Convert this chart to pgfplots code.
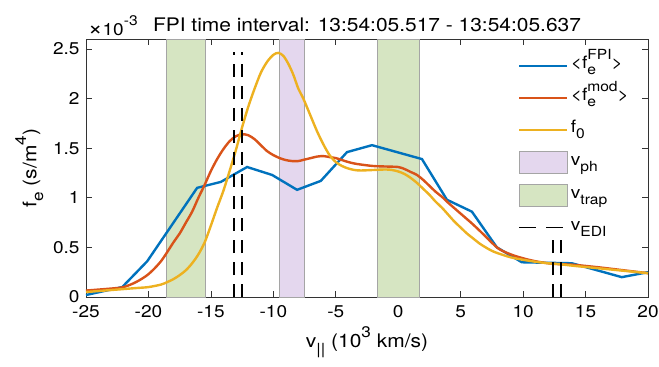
\documentclass[border=0pt]{standalone}
\usepackage{fontspec}
\setmainfont{TeX Gyre Heros}[FakeStretch=1.12]
\usepackage{graphicx}
\usepackage{pgfplots}
\pgfplotsset{compat=1.18}
\definecolor{mblue}{rgb}{0,0.447,0.741}
\definecolor{morange}{rgb}{0.85,0.325,0.098}
\definecolor{myellow}{rgb}{0.929,0.694,0.125}
\definecolor{mgreen}{RGB}{214,229,194}
\definecolor{mpurple}{RGB}{228,215,238}
\definecolor{edgegray}{RGB}{165,165,165}
\newcommand{\fs}{\fontsize{17bp}{20bp}\selectfont}
\newcommand{\fl}{\fontsize{18.7bp}{22bp}\selectfont}
\newcommand{\sbs}[1]{\raisebox{-0.36em}{\scalebox{0.82}{#1}}}
\newcommand{\sps}[1]{\raisebox{0.55em}{\scalebox{0.82}{#1}}}
\begin{document}
\begin{tikzpicture}
\begin{axis}[
  scale only axis, width=562bp, height=258bp,
  xmin=-25, xmax=20, ymin=0, ymax=2.6,
  clip mode=individual,
  xtick={-25,-20,-15,-10,-5,0,5,10,15,20},
  xticklabels={-25,-20,-15,-10,-5,0,5,10,15,20},
  ytick={0,0.5,1,1.5,2,2.5},
  yticklabels={0,0.5,1,1.5,2,2.5},
  scaled y ticks=false,
  /pgf/number format/assume math mode=true,
  tick align=inside, major tick length=6bp,
  axis line style={black!80, line width=0.7bp},
  tick style={black!80, line width=0.7bp},
  ticklabel style={font=\fs},
  xticklabel style={yshift=-5bp},
  yticklabel style={xshift=-3bp},
  xlabel={v\sbs{||} (10\sps{3} km/s)},
  ylabel={f\sbs{e} (s/m\sps{4})},
  label style={font=\fl},
  xlabel style={at={(axis description cs:0.5,-0.1)}, anchor=north},
  ylabel style={at={(axis description cs:-0.101,0.5)}, anchor=center},
  title={FPI time interval: 13:54:05.517 - 13:54:05.637},
  title style={font=\fl, at={(axis description cs:0.5,1)}, anchor=base, yshift=2bp},
  legend image code/.code={\draw[#1] (0bp,0bp) -- (48bp,0bp);},
  legend cell align=left,
  legend style={draw=none, fill=none, at={(0.763,0.947)}, anchor=north west,
    font=\fs, row sep=10bp,
    nodes={text height=14bp, text depth=8bp, inner ysep=0bp, inner xsep=2.5bp}},
]
% shaded bands
\addplot[fill=mgreen, draw=edgegray, line width=0.8bp, forget plot] coordinates {(-18.6,0) (-18.6,2.6) (-15.4,2.6) (-15.4,0)} -- cycle;
\addplot[fill=mpurple, draw=edgegray, line width=0.8bp, forget plot] coordinates {(-9.5,0) (-9.5,2.6) (-7.55,2.6) (-7.55,0)} -- cycle;
\addplot[fill=mgreen, draw=edgegray, line width=0.8bp, forget plot] coordinates {(-1.7,0) (-1.7,2.6) (1.7,2.6) (1.7,0)} -- cycle;
% FPI
\addplot[mblue, line width=2.4bp, forget plot] coordinates {
(-25,0.02) (-22.1,0.10) (-20.1,0.36) (-16.1,1.10) (-14.2,1.16) (-12.1,1.31)
(-10.1,1.23) (-8.1,1.08) (-6.2,1.17) (-4.1,1.46) (-2.1,1.53) (1.9,1.39)
(3.9,0.98) (5.9,0.86) (7.9,0.50) (9.9,0.35) (13.9,0.34) (17.9,0.20) (20,0.25)};
% model
\addplot[morange, line width=2.4bp, smooth, forget plot] coordinates {
(-25,0.065) (-23,0.085) (-22,0.10) (-21,0.15) (-20,0.23) (-19,0.36) (-18,0.55)
(-17.5,0.64) (-17,0.75) (-16.5,0.86) (-16,1.00) (-15.5,1.13) (-15,1.27) (-14.5,1.39)
(-14,1.49) (-13.5,1.57) (-13,1.62) (-12.5,1.64) (-12,1.63) (-11.5,1.59) (-11,1.53)
(-10.5,1.47) (-10,1.43) (-9.5,1.40) (-9,1.38) (-8.5,1.37) (-8,1.37) (-7.5,1.385)
(-7,1.40) (-6.5,1.415) (-6,1.42) (-5.5,1.41) (-5,1.40) (-4.5,1.38) (-4,1.36)
(-3.5,1.345) (-3,1.335) (-2,1.32) (-1,1.315) (0,1.31) (0.5,1.29) (1,1.26)
(1.5,1.23) (2,1.18) (2.5,1.12) (3,1.06) (3.5,1.01) (4,0.95) (5,0.84) (6,0.73)
(7,0.61) (8,0.49) (9,0.43) (10,0.39) (11,0.36) (12,0.34) (13,0.33) (14,0.325)
(16,0.30) (18,0.27) (20,0.24)};
% f0
\addplot[myellow, line width=2.4bp, smooth, forget plot] coordinates {
(-25,0.05) (-23,0.07) (-21,0.09) (-20,0.10) (-19,0.125) (-18.5,0.15) (-18,0.18)
(-17.5,0.22) (-17,0.27) (-16.5,0.34) (-16,0.43) (-15.5,0.55) (-15,0.72) (-14.5,0.90)
(-14,1.07) (-13.5,1.27) (-13,1.48) (-12.5,1.71) (-12,1.92) (-11.5,2.10) (-11,2.26)
(-10.5,2.37) (-10,2.44) (-9.6,2.46) (-9.2,2.43) (-8.8,2.35) (-8.4,2.24) (-8,2.10)
(-7.6,2.00) (-7,1.82) (-6.5,1.67) (-6,1.54) (-5.5,1.43) (-5,1.36) (-4.5,1.32)
(-4,1.295) (-3.5,1.28) (-3,1.275) (-2,1.28) (-1,1.285) (-0.5,1.28) (0,1.265)
(0.5,1.24) (1,1.20) (1.5,1.15) (2,1.09) (2.5,1.03) (3,0.96) (3.5,0.90) (4,0.83)
(4.5,0.76) (5,0.70) (5.5,0.64) (6,0.59) (6.5,0.54) (7,0.50) (7.5,0.465) (8,0.44)
(9,0.40) (10,0.375) (11,0.355) (12,0.34) (13,0.33) (14,0.315) (16,0.29) (18,0.265) (20,0.24)};
% EDI lines
\addplot[black, line width=1.6bp, dash pattern=on 13bp off 9bp, forget plot] coordinates {(-13.15,0) (-13.15,2.47)};
\addplot[black, line width=1.6bp, dash pattern=on 13bp off 9bp, forget plot] coordinates {(-12.5,0) (-12.5,2.47)};
\addplot[black, line width=1.6bp, dash pattern=on 13bp off 9bp, forget plot] coordinates {(12.4,0) (12.4,0.6)};
\addplot[black, line width=1.6bp, dash pattern=on 13bp off 9bp, forget plot] coordinates {(13.05,0) (13.05,0.6)};
% legend
\addlegendimage{mblue, line width=2.4bp}
\addlegendentry{<f\rlap{\sbs{e}}\sps{FPI}>}
\addlegendimage{morange, line width=2.4bp}
\addlegendentry{<f\rlap{\sbs{e}}\sps{mod}>}
\addlegendimage{myellow, line width=2.4bp}
\addlegendentry{f\sbs{0}}
\addlegendimage{legend image code/.code={\draw[fill=mpurple, draw=edgegray, line width=0.8bp] (0bp,-11bp) rectangle (48bp,11bp);}}
\addlegendentry{v\sbs{ph}}
\addlegendimage{legend image code/.code={\draw[fill=mgreen, draw=edgegray, line width=0.8bp] (0bp,-11bp) rectangle (48bp,11bp);}}
\addlegendentry{v\sbs{trap}}
\addlegendimage{legend image code/.code={\draw[black, line width=1.6bp] (0bp,0bp) -- (17bp,0bp) (27bp,0bp) -- (44bp,0bp);}}
\addlegendentry{v\sbs{EDI}}
\node[anchor=base west, inner sep=0pt, font=\fs] at (axis description cs:0,1) [xshift=2bp, yshift=4bp] {\scalebox{1.3}{×}10\sps{-3}};
\end{axis}
\pgfresetboundingbox
\useasboundingbox (-86bp,-70bp) rectangle (573bp,297bp);
\end{tikzpicture}
\end{document}
